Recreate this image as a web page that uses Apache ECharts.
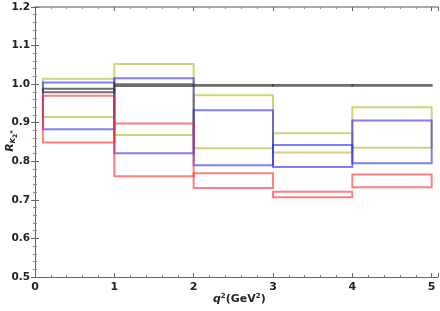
<!DOCTYPE html>
<html><head><meta charset="utf-8">
<script src="https://cdn.jsdelivr.net/npm/echarts@6/dist/echarts.min.js"></script>
<style>html,body{margin:0;padding:0;background:#fff}#c{width:440px;height:311px}</style>
</head><body><div id="c"></div>
<script>
// bins: [x0, x1]
const bins = [[0.1,1],[1,2],[2,3],[3,4],[4,5]];
// each series: [low, high] per bin
const yellowBand = [[0.915,1.014],[0.868,1.052],[0.834,0.971],[0.823,0.873],[0.835,0.940]];
const blueBand   = [[0.883,1.004],[0.821,1.015],[0.790,0.932],[0.785,0.842],[0.795,0.906]];
const redBand    = [[0.849,0.970],[0.761,0.898],[0.731,0.769],[0.707,0.721],[0.733,0.766]];
const grayBand   = [[0.979,0.988],[0.995,1.000],[0.996,0.998],[0.996,0.998],[0.996,0.998]];
const xTicks = [0,1,2,3,4,5];
const yTicks = [0.5,0.6,0.7,0.8,0.9,1.0,1.1,1.2];

function makeData(band){ return band.map((b,i)=>[bins[i][0],bins[i][1],b[0],b[1]]); }
function boxSeries(name, band, color, width){
  return {
    type:'custom', name:name, data:makeData(band), xAxisIndex:0, yAxisIndex:0,
    renderItem:function(params, api){
      const p0 = api.coord([api.value(0), api.value(3)]);
      const p1 = api.coord([api.value(1), api.value(2)]);
      return {type:'rect', shape:{x:p0[0], y:p0[1], width:p1[0]-p0[0], height:p1[1]-p0[1]},
        style:{fill:'none', stroke:color, lineWidth:width}};
    },
    encode:{x:[0,1], y:[2,3]}, silent:true
  };
}
const chart = echarts.init(document.getElementById('c'), null, {renderer:'canvas'});
const axisCommon = {
  type:'value', min:0, max:5.08, interval:1,
  axisLine:{show:true, lineStyle:{color:'#666', width:1}},
  axisTick:{show:true, inside:true, length:4, lineStyle:{color:'#666'}},
  minorTick:{show:true, splitNumber:5, length:2, lineStyle:{color:'#888'}},
  splitLine:{show:false}
};
const yTitleRich = {i:{fontStyle:'italic', fontSize:11, fontWeight:'bold', fontFamily:'DejaVu Sans', fill:'#222'},
  s:{fontStyle:'italic', fontSize:7, fontWeight:'bold', fontFamily:'DejaVu Sans', fill:'#222', padding:[7,0,0,0]},
  t:{fontSize:6, fontWeight:'bold', fontFamily:'DejaVu Sans', fill:'#222', padding:[10,0,0,0]}};
chart.setOption({
  animation:false,
  grid:{left:35, right:2, top:7, bottom:34, containLabel:false, outerBoundsMode:'none'},
  xAxis:[
    Object.assign({}, axisCommon, {position:'bottom',
      axisLabel:{show:true, showMaxLabel:false, color:'#222', fontFamily:'DejaVu Sans', fontWeight:'bold', fontSize:11, margin:5,
        formatter:v=> xTicks.includes(v)? String(v):''}}),
    Object.assign({}, axisCommon, {position:'top', axisLine:{show:true, lineStyle:{color:'#aaa', width:2}}, axisLabel:{show:false}})
  ],
  yAxis:[
    {type:'value', min:0.5, max:1.2, interval:0.1, position:'left',
      axisLine:{show:true, lineStyle:{color:'#666'}},
      axisTick:{show:true, inside:true, length:4, lineStyle:{color:'#666'}},
      minorTick:{show:true, splitNumber:5, length:2, lineStyle:{color:'#888'}},
      splitLine:{show:false},
      axisLabel:{color:'#222', fontFamily:'DejaVu Sans', fontWeight:'bold', fontSize:10.5, margin:5,
        formatter:v=>{const t=yTicks.find(t=>Math.abs(t-v)<1e-6); return t===undefined?'':t.toFixed(1);}}},
    {type:'value', min:0.5, max:1.2, interval:0.1, position:'right',
      axisLine:{show:true, lineStyle:{color:'#666'}},
      axisTick:{show:true, inside:true, length:4, lineStyle:{color:'#666'}},
      minorTick:{show:true, splitNumber:5, length:2, lineStyle:{color:'#888'}},
      splitLine:{show:false}, axisLabel:{show:false}}
  ],
  series:[
    boxSeries('yellow', yellowBand, 'rgba(180,180,30,0.6)', 2),
    boxSeries('blue', blueBand, 'rgba(40,40,240,0.6)', 2),
    boxSeries('red', redBand, 'rgba(255,40,40,0.6)', 2),
    boxSeries('gray', grayBand, 'rgba(60,60,60,0.75)', 2),
    {type:'custom', coordinateSystem:'none', data:[0], silent:true,
      renderItem:function(){
        return {type:'text', x:10, y:141, rotation:Math.PI/2,
          style:{text:'{i|R}{s|K}{t|2}{s|*}', align:'center', verticalAlign:'middle', fill:'#222', rich:yTitleRich}};
      }}
  ],
  graphic:[
    {type:'text', left:213, top:293, style:{
      text:'{i|q}{s|2}(GeV{s|2})', fill:'#222',
      rich:{i:{fontStyle:'italic', fontWeight:'bold', fontSize:11, fontFamily:'DejaVu Sans', fill:'#222'},
            s:{fontSize:7, fontWeight:'bold', fontFamily:'DejaVu Sans', verticalAlign:'top', fill:'#222', padding:[0,0,6,0]}},
      font:'bold 11px DejaVu Sans'}}
  ]
});
</script></body></html>
